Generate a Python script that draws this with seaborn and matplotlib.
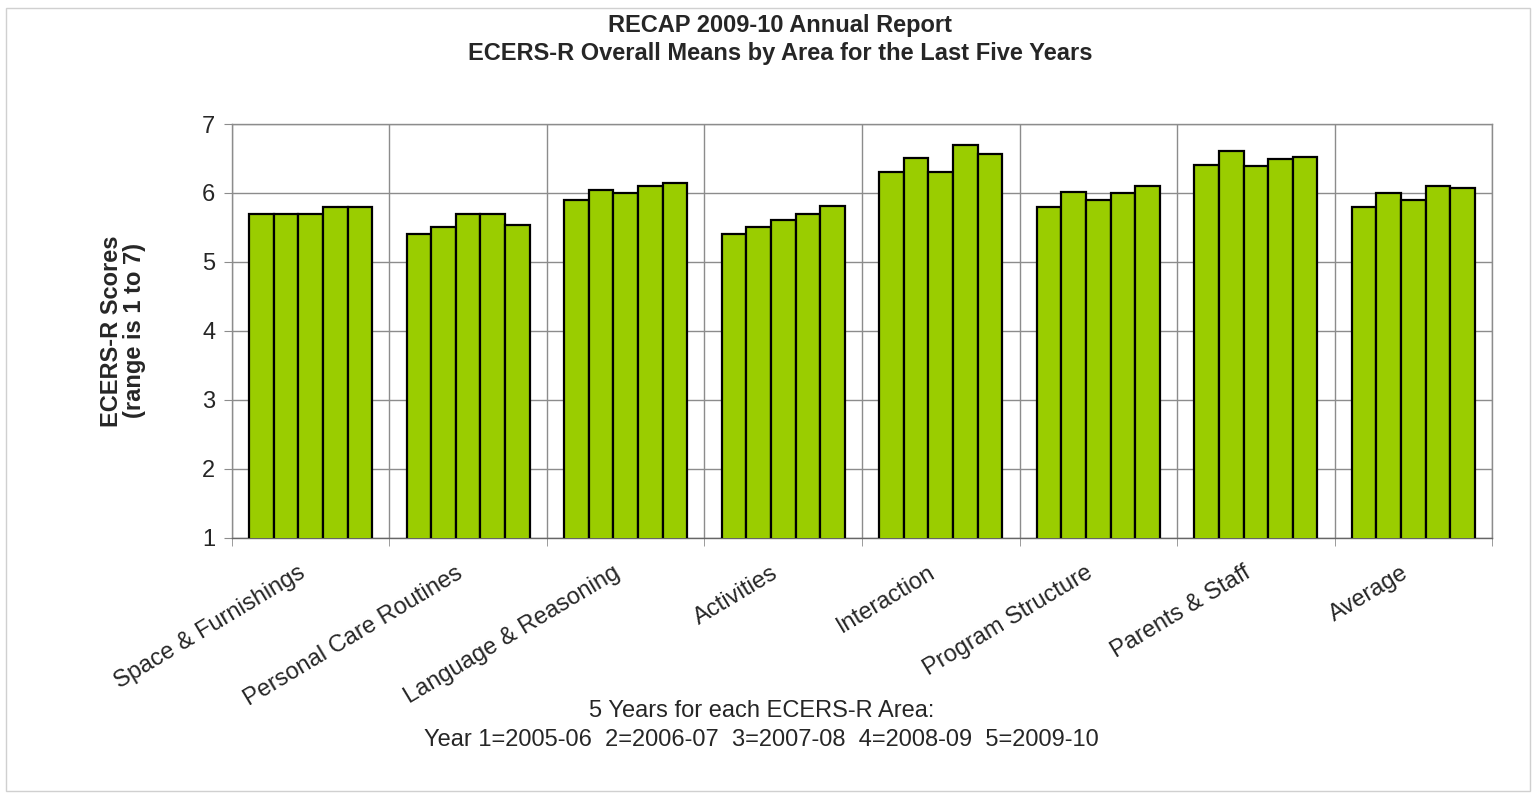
import matplotlib
matplotlib.use("Agg")
import matplotlib.pyplot as plt
import matplotlib.transforms as mtransforms
from matplotlib.patches import Rectangle
import pandas as pd
import seaborn as sns

# ========== DATA ==========
AREAS = [
    'Space & Furnishings',
    'Personal Care Routines',
    'Language & Reasoning',
    'Activities',
    'Interaction',
    'Program Structure',
    'Parents & Staff',
    'Average',
]
YEARS = ['2005-06', '2006-07', '2007-08', '2008-09', '2009-10']

year1 = [5.70, 5.40, 5.90, 5.40, 6.30, 5.80, 6.40, 5.80]
year2 = [5.70, 5.50, 6.05, 5.50, 6.51, 6.02, 6.61, 6.00]
year3 = [5.70, 5.70, 6.00, 5.61, 6.30, 5.90, 6.39, 5.90]
year4 = [5.80, 5.70, 6.10, 5.70, 6.70, 6.00, 6.49, 6.10]
year5 = [5.80, 5.53, 6.15, 5.81, 6.57, 6.10, 6.52, 6.07]
# ==========================

BAR_COLOR = '#9ACD00'
GRID_COLOR = '#8c8c8c'


def build_frame():
    rows = []
    for year, vals in zip(YEARS, [year1, year2, year3, year4, year5]):
        for area, v in zip(AREAS, vals):
            rows.append({'area': area, 'year': year, 'score': v})
    return pd.DataFrame(rows)


def main():
    sns.set_style('white')
    plt.rcParams['font.family'] = ['Liberation Sans', 'DejaVu Sans']

    df = build_frame()

    fig = plt.figure(figsize=(15.36, 7.99), dpi=100)
    ax = fig.add_axes([0.151, 0.3267, 0.8204, 0.5181])

    sns.barplot(data=df, x='area', y='score', hue='year', order=AREAS,
                hue_order=YEARS, palette=[BAR_COLOR] * len(YEARS),
                saturation=1, width=0.78, gap=0, edgecolor='black',
                linewidth=1.6, legend=False, ax=ax, zorder=3)

    ax.set_ylim(1, 7)
    ax.set_xlim(-0.5, len(AREAS) - 0.5)
    ax.set_yticks(range(1, 8))

    # grid: horizontal at each score, vertical at category boundaries
    for y in range(1, 8):
        ax.axhline(y, color=GRID_COLOR, lw=1, zorder=1)
    for b in range(len(AREAS) + 1):
        ax.axvline(b - 0.5, color=GRID_COLOR, lw=1, zorder=1)

    for side in ['left', 'right', 'top', 'bottom']:
        ax.spines[side].set_color(GRID_COLOR)
        ax.spines[side].set_linewidth(1)
    ax.spines['bottom'].set_color('#666666')

    ax.tick_params(axis='y', labelsize=17, length=6, color=GRID_COLOR,
                   left=True, direction='out', pad=6)
    ax.set_xticks([i - 0.5 for i in range(len(AREAS) + 1)], minor=True)
    ax.tick_params(axis='x', which='minor', length=6, color=GRID_COLOR,
                   bottom=True, direction='out')
    ax.tick_params(axis='x', which='major', length=0, pad=24)
    ax.set_xticks(range(len(AREAS)))
    ax.set_xticklabels(AREAS, rotation=31, ha='right', va='center',
                       rotation_mode='anchor', fontsize=17)
    # nudge the slanted labels a little to the left
    shift = mtransforms.ScaledTranslation(-7 / 100, 0, fig.dpi_scale_trans)
    for lbl in ax.get_xticklabels():
        lbl.set_transform(lbl.get_transform() + shift)

    ax.set_xlabel('')
    ax.set_ylabel('ECERS-R Scores\n(range is 1 to 7)', fontsize=17,
                  fontweight='bold', labelpad=40, linespacing=1.05)

    fig.text(0.508, 0.968, 'RECAP 2009-10 Annual Report', ha='center',
             va='center', fontsize=17, fontweight='bold')
    fig.text(0.508, 0.933, 'ECERS-R Overall Means by Area for the Last Five Years',
             ha='center', va='center', fontsize=17, fontweight='bold')

    fig.text(0.496, 0.110, '5 Years for each ECERS-R Area:', ha='center',
             va='center', fontsize=17)
    fig.text(0.496, 0.074,
             'Year 1=2005-06  2=2006-07  3=2007-08  4=2008-09  5=2009-10',
             ha='center', va='center', fontsize=17)

    # light frame around the whole chart
    fig.patches.append(Rectangle((0.004, 0.01), 0.992, 0.98,
                                 transform=fig.transFigure, fill=False,
                                 edgecolor='#d0d0d0', lw=1))

    fig.savefig('out.png', dpi=100)
    plt.close(fig)


if __name__ == '__main__':
    main()
